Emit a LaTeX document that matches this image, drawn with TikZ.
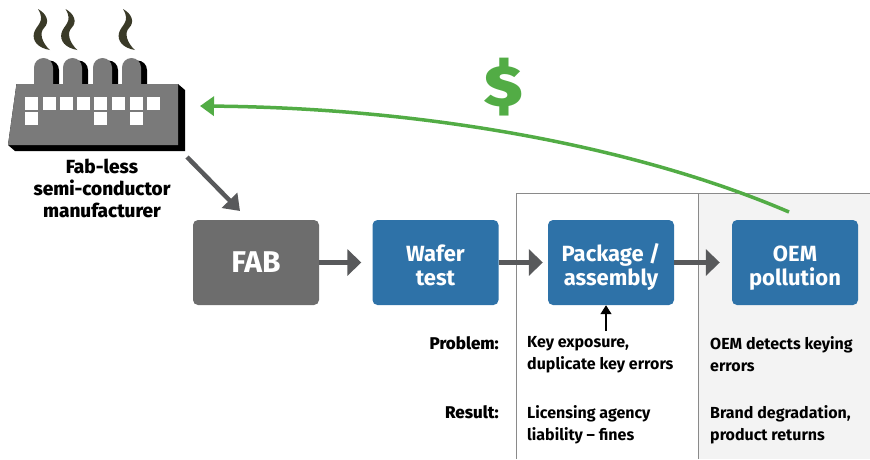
\documentclass[tikz,border=0pt]{standalone}
\usepackage{fontspec}
\setmainfont{Fira Sans}
\newfontfamily\heavyface{Fira Sans ExtraBold}
\newfontfamily\blackface{Fira Sans Black}
\usetikzlibrary{arrows.meta}
\definecolor{boxblue}{HTML}{2E72A8}
\definecolor{fabgrey}{HTML}{6D6D6D}
\definecolor{arrowgrey}{HTML}{58595B}
\definecolor{framegrey}{HTML}{8A8A8A}
\definecolor{panelgrey}{HTML}{F3F3F3}
\definecolor{greenline}{HTML}{52AC45}
\definecolor{smoke}{HTML}{3A3A28}
\definecolor{factorygrey}{HTML}{7A7A7A}
\newcommand{\boxtext}[2]{\rule{0pt}{26pt}#1\\#2\rule[-3.5pt]{0pt}{3.5pt}}
\tikzset{
  procbox/.style={draw=none,fill=boxblue,rounded corners=5pt,minimum width=126pt,minimum height=85pt,inner sep=0pt,
    text=white,align=center,font=\fontsize{22}{24}\selectfont\bfseries},
  flowarrow/.style={draw=arrowgrey,line width=5pt,-{Triangle[length=14pt,width=26pt]}},
  info/.style={anchor=north west,inner sep=0pt,align=left,font=\fontsize{16}{22}\selectfont\bfseries,text=black},
  rowlabel/.style={anchor=north east,inner sep=0pt,align=right,font=\fontsize{17}{22}\heavyface\selectfont,text=black},
  windowbox/.style={fill=white,draw=none},
  puff/.style={fill=smoke,draw=none},
}
\begin{document}
\begin{tikzpicture}[x=1pt,y=-1pt]
\useasboundingbox (0,0) rectangle (870,459);
% panels
\fill[panelgrey] (698,193) rectangle (870,459);
\draw[framegrey,line width=1pt] (516,459) -- (516,193) -- (870,193);
\draw[framegrey,line width=1pt] (698,193) -- (698,459);
% factory chimneys
\foreach \cx in {34,63,93,122}{
  \fill[black] (\cx+6,90) -- (\cx+6,70) arc[start angle=180,end angle=360,radius=9.5] -- (\cx+25,90) -- cycle;
  \fill[factorygrey] (\cx,90) -- (\cx,67.5) arc[start angle=180,end angle=360,radius=9.5] -- (\cx+19,90) -- cycle;
}
% factory body
\fill[black] (16.5,84) -- (178,84) -- (185,90) -- (185,151) -- (15,151) -- (8,145) -- cycle;
\fill[factorygrey] (16.5,84) -- (178,84) -- (178,145) -- (8,145) -- cycle;
\foreach \wx/\wy in {25/97,43/97,60/97,77/97,94/97,112/97,130/97,147/97,25/112,94/112,130/112}{
  \fill[windowbox] (\wx,\wy) rectangle ++(12.5,13);
}
% smoke
\foreach \sx in {41,68.5,126}{
  \fill[puff] (\sx-3,9) .. controls (\sx+6,14) and (\sx+9,22) .. (\sx+3,28)
     .. controls (\sx-2,33) and (\sx+1,43) .. (\sx+9,50)
     .. controls (\sx-3,48) and (\sx-9,41) .. (\sx-7,33)
     .. controls (\sx-5,25) and (\sx+5,22) .. (\sx-3,9) -- cycle;
}
% nodes
\coordinate (factoryout) at (187,157);
\coordinate (factoryin) at (200,106);
\coordinate (fabin) at (240,211);
\coordinate (oemout) at (789,212);
\coordinate (keyarrow) at (606,331);
\node[anchor=north,inner sep=0pt,align=center,font=\fontsize{19}{22}\heavyface\selectfont] (fabless) at (102,158.5) {Fab-less\\semi-conductor\\manufacturer};
\node[procbox,fill=fabgrey,font=\fontsize{30}{30}\selectfont\bfseries] (fab) at (256,262.5) {FAB};
\node[procbox] (wafer) at (435.5,262.5) {\boxtext{Wafer}{test}};
\node[procbox] (package) at (611,262.5) {\boxtext{Package /}{assembly}};
\node[procbox] (oem) at (795,262.5) {\boxtext{OEM}{pollution}};
\node[rowlabel] (problem) at (499,336) {Problem:};
\node[rowlabel] (result) at (499,405) {Result:};
\node[info] (keyexp) at (527,336.5) {Key exposure,\\duplicate key errors};
\node[info] (oemdet) at (710,336.5) {OEM detects keying\\errors};
\node[info] (licens) at (527,405) {Licensing agency\\liability – fines};
\node[info] (brand) at (710,405) {Brand degradation,\\product returns};
\node[inner sep=0pt,text=greenline,transform shape,xscale=1.18,font=\fontsize{58}{58}\blackface\selectfont] (dollar) at (503.5,87) {\$};
% connectors
\draw[flowarrow,-{Triangle[length=15pt,width=21pt]},line width=4.5pt] (factoryout) -- (fabin);
\draw[flowarrow,shorten >=11pt] (fab.east) -- (wafer.west);
\draw[flowarrow,shorten >=5pt] (wafer.east) -- (package.west);
\draw[flowarrow,shorten >=12pt] (package.east) -- (oem.west);
\draw[black,line width=1.3pt,-{Triangle[length=9pt,width=11pt]}] (keyarrow) -- (package.south -| keyarrow);
\draw[greenline,line width=3.5pt,-{Triangle[length=14pt,width=19pt]}] (oemout) .. controls (640,148) and (430,108) .. (factoryin);
\end{tikzpicture}
\end{document}
